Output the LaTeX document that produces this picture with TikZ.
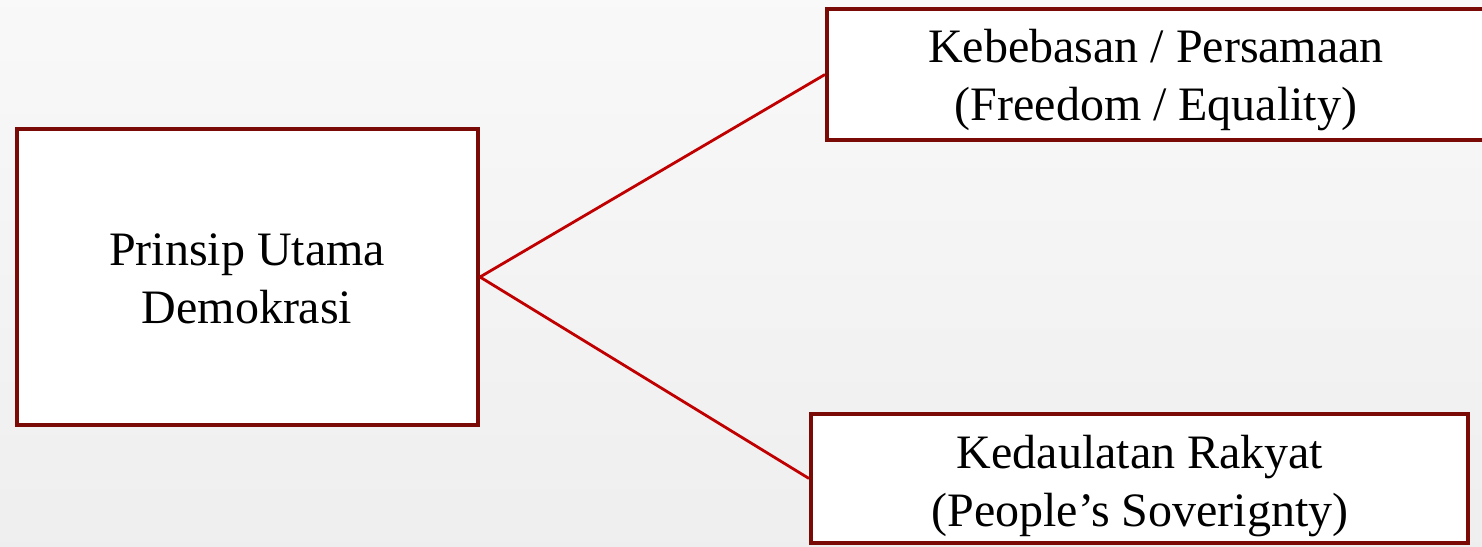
\documentclass[tikz,border=0pt]{standalone}
\usepackage{fontspec}
\setmainfont{Liberation Serif}
\usepackage{tikz}
\usetikzlibrary{positioning}

\definecolor{boxred}{RGB}{122,10,5}
\definecolor{linkred}{RGB}{192,0,0}

\begin{document}
\begin{tikzpicture}[x = 0.5pt, y = -0.5pt,
    box/.style = { draw = boxred, line width = 2pt, fill = white, inner sep = 0pt },
    boxtext/.style = { align = center, font = \fontsize{24}{29}\selectfont, inner sep = 0pt },
    link/.style = { draw = linkred, line width = 1.4pt }]
      \useasboundingbox (0,0) rectangle (1482,546);
      \clip (0,0) rectangle (1482,546);
      \shade[top color = gray!5, bottom color = gray!13] (0,0) rectangle (1482,546);
      % main idea
      \node [box, minimum width = 230.5pt, minimum height = 148pt] (prinsip) at (247.5,277) {};
      \node [boxtext] (prinsiptext) at (247,279) { Prinsip Utama \\ Demokrasi };
      % the two principles
      \node [box, minimum width = 336.5pt, minimum height = 65.5pt] (bebas) at (1163.5,74.5) {};
      \node [boxtext] (bebastext) at (1156,80) { Kebebasan / Persamaan \\ (Freedom / Equality) };
      \node [box, minimum width = 328.5pt, minimum height = 64.5pt] (daulat) at (1139.5,478.5) {};
      \node [boxtext] (daulattext) at (1140,486) { Kedaulatan Rakyat \\ (People’s Soverignty) };
      \draw [link] (prinsip.east) -- (bebas.west);
      \draw [link] (prinsip.east) -- (daulat.west);
    \end{tikzpicture}
\end{document}
